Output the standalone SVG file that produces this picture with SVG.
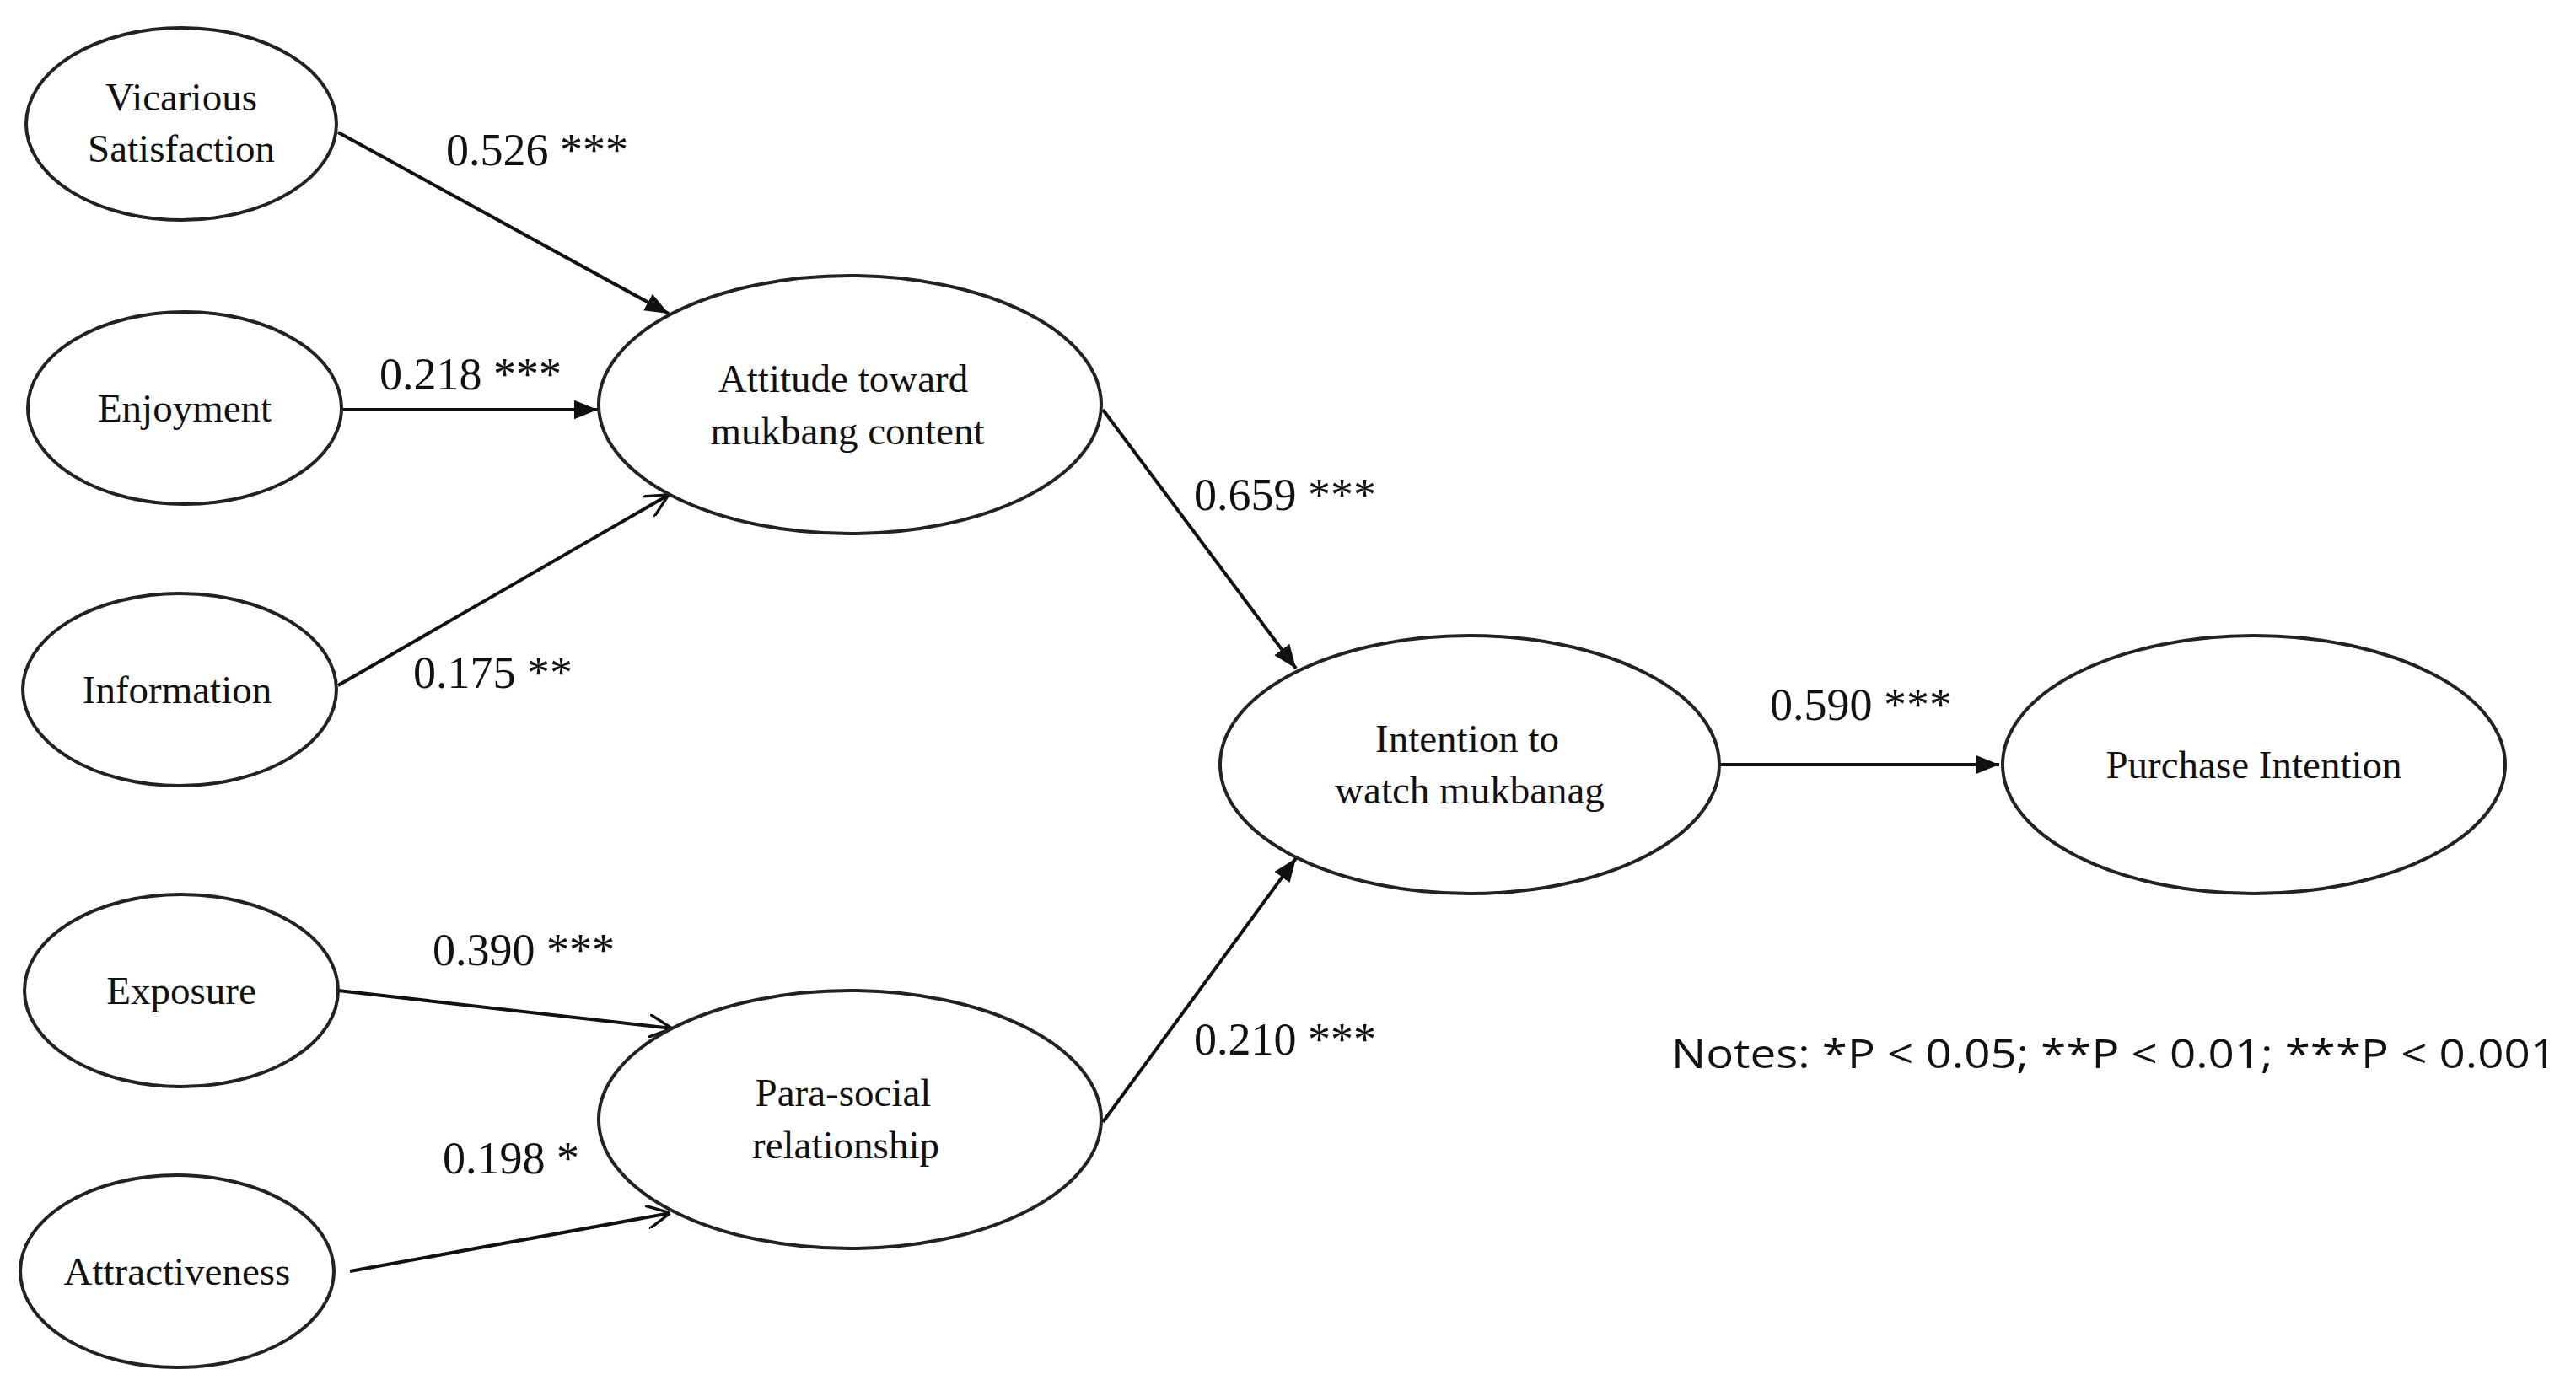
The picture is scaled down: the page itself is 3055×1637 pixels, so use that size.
<svg xmlns="http://www.w3.org/2000/svg" width="3055" height="1637" viewBox="0 0 3055 1637">
<style>
.n{fill:#fff;stroke:#222;stroke-width:4}
.t{font-family:"Liberation Serif",serif;font-size:47px;fill:#111;text-anchor:middle}
.l{font-family:"Liberation Serif",serif;font-size:54px;fill:#111}
.c{stroke:#111;stroke-width:4;fill:none}
.a{marker-end:url(#ah)}
.o{marker-end:url(#oh)}
</style>
<defs>
<marker id="ah" viewBox="0 0 10 10" refX="10" refY="5" markerWidth="7" markerHeight="7" markerUnits="strokeWidth" orient="auto"><path d="M0,1 L10,5 L0,9 z" fill="#111"/></marker>
<marker id="oh" viewBox="0 0 10 10" refX="10" refY="5" markerWidth="7" markerHeight="7" markerUnits="strokeWidth" orient="auto"><path d="M0,0 L10,5 L0,10" fill="none" stroke="#111" stroke-width="1.2"/></marker>
</defs>
<rect width="3055" height="1637" fill="#fff"/>
<g id="connectors">
<line class="c a" x1="401" y1="157" x2="793" y2="372"/>
<line class="c a" x1="407" y1="486" x2="709" y2="486"/>
<line class="c o" x1="401" y1="813" x2="793" y2="587"/>
<line class="c o" x1="401" y1="1175" x2="797" y2="1220"/>
<line class="c o" x1="415" y1="1508" x2="795" y2="1439"/>
<line class="c a" x1="1308" y1="486" x2="1537" y2="793"/>
<line class="c a" x1="1308" y1="1331" x2="1537" y2="1018"/>
<line class="c a" x1="2036" y1="907" x2="2371" y2="907"/>
<text class="l" x="529" y="196">0.526 ***</text>
<text class="l" x="450" y="462">0.218 ***</text>
<text class="l" x="490" y="816">0.175 **</text>
<text class="l" x="1416" y="605">0.659 ***</text>
<text class="l" x="2099" y="854">0.590 ***</text>
<text class="l" x="513" y="1145">0.390 ***</text>
<text class="l" x="525" y="1392">0.198 *</text>
<text class="l" x="1416" y="1251">0.210 ***</text>
</g>
<g id="vicarious"><ellipse class="n" cx="215" cy="147" rx="184" ry="114"/><text class="t" x="215" y="131">Vicarious</text><text class="t" x="215" y="192">Satisfaction</text></g>
<g id="enjoyment"><ellipse class="n" cx="219" cy="484" rx="186" ry="114"/><text class="t" x="219" y="500">Enjoyment</text></g>
<g id="information"><ellipse class="n" cx="213" cy="818" rx="186" ry="114"/><text class="t" x="210" y="834">Information</text></g>
<g id="exposure"><ellipse class="n" cx="215" cy="1175" rx="186" ry="114"/><text class="t" x="215" y="1191">Exposure</text></g>
<g id="attractiveness"><ellipse class="n" cx="210" cy="1508" rx="186" ry="114"/><text class="t" x="210" y="1524">Attractiveness</text></g>
<g id="attitude"><ellipse class="n" cx="1008" cy="480" rx="298" ry="153"/><text class="t" x="1000" y="465">Attitude toward</text><text class="t" x="1005" y="527">mukbang content</text></g>
<g id="parasocial"><ellipse class="n" cx="1008" cy="1328" rx="298" ry="153"/><text class="t" x="1000" y="1312">Para-social</text><text class="t" x="1003" y="1374">relationship</text></g>
<g id="intention"><ellipse class="n" cx="1743" cy="907" rx="296" ry="153"/><text class="t" x="1740" y="892">Intention to</text><text class="t" x="1743" y="953">watch mukbanag</text></g>
<g id="purchase"><ellipse class="n" cx="2673" cy="907" rx="298" ry="153"/><text class="t" x="2673" y="923">Purchase Intention</text></g>
<text x="1982" y="1267" font-family="'Open Sans',sans-serif" font-size="48" fill="#111" textLength="1050" lengthAdjust="spacingAndGlyphs">Notes: *P &lt; 0.05; **P &lt; 0.01; ***P &lt; 0.001</text>
</svg>
